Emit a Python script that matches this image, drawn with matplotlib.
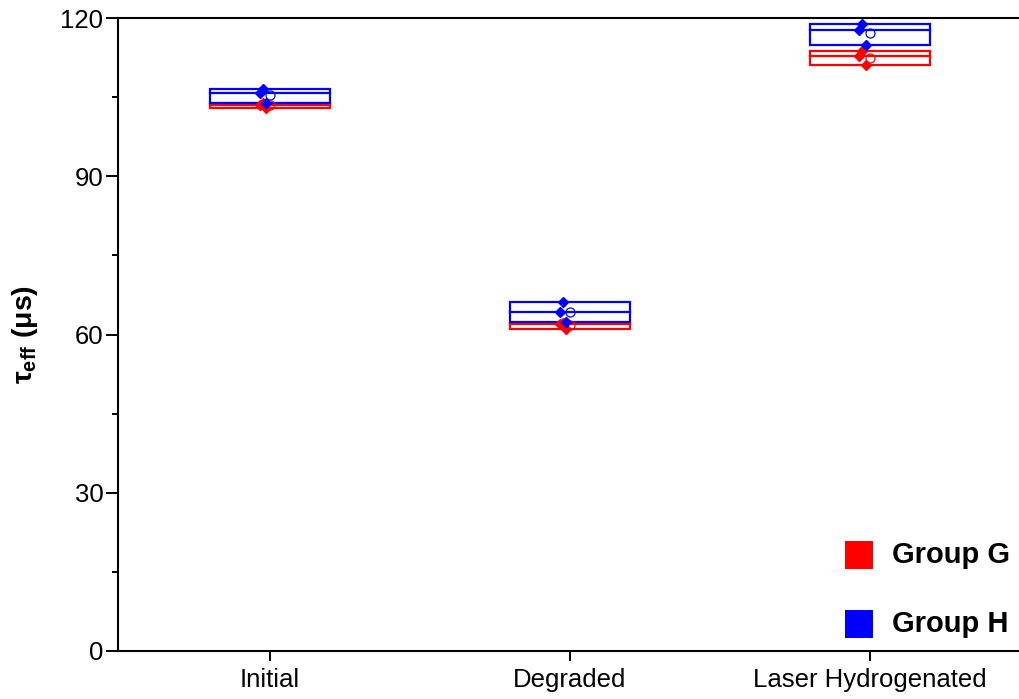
import numpy as np
import matplotlib
matplotlib.use("Agg")
import matplotlib.pyplot as plt
from matplotlib.ticker import MultipleLocator

plt.rcParams["font.family"] = ["Liberation Sans", "DejaVu Sans"]
plt.rcParams["mathtext.fontset"] = "custom"
plt.rcParams["mathtext.rm"] = "Liberation Sans"
plt.rcParams["mathtext.bf"] = "Liberation Sans:bold"

# effective lifetime per stage, three wafers per group (µs)
stages = ["Initial", "Degraded", "Laser Hydrogenated"]
group_g = [
    [103.8, 103.5, 103.0],
    [62.2, 62.0, 61.0],
    [113.7, 112.8, 111.0],
]
group_h = [
    [106.6, 105.7, 103.9],
    [66.2, 64.3, 62.4],
    [118.8, 117.7, 114.9],
]
group_names = ["Group G", "Group H"]
group_colors = ["#ff0000", "#0000ff"]

# small horizontal spread so overlapping points stay visible
jitter = [-0.025, -0.035, -0.012]
box_w = 0.40

fig = plt.figure(figsize=(10.19, 6.99), dpi=100)
ax = fig.add_axes([118 / 1019, 48 / 699, 904 / 1019, 633 / 699])

for data, color in zip([group_g, group_h], group_colors):
    for i, vals in enumerate(data):
        vals = np.asarray(vals)
        lo, hi = vals.min(), vals.max()
        med, mean = np.median(vals), vals.mean()
        ax.add_patch(plt.Rectangle((i - box_w / 2, lo), box_w, hi - lo,
                                   fill=False, edgecolor=color, lw=1.6, zorder=2))
        ax.plot([i - box_w / 2, i + box_w / 2], [med, med], color=color, lw=1.6, zorder=2)
        ax.plot(i + np.array(jitter), vals, ls="none", marker="D", ms=5.5,
                color=color, mec=color, zorder=4)
        ax.plot([i], [mean], ls="none", marker="o", ms=6.5, mfc="none",
                mec=color, mew=0.9, zorder=3)

ax.set_xlim(-0.5067, 2.5067)
ax.set_ylim(0, 120)
ax.set_xticks(range(len(stages)))
ax.set_xticklabels(stages)
ax.yaxis.set_major_locator(MultipleLocator(30))
ax.yaxis.set_minor_locator(MultipleLocator(15))

ax.spines["right"].set_visible(False)
for s in ["left", "bottom", "top"]:
    ax.spines[s].set_linewidth(1.5)

ax.tick_params(axis="both", which="major", direction="out", length=8.5, width=1.4,
               labelsize=18.5, pad=2)
ax.tick_params(axis="y", which="minor", direction="out", length=4, width=1.4)
ax.tick_params(axis="x", which="major", length=7.5, pad=5)
ax.tick_params(axis="x", which="minor", bottom=False)

ax.set_ylabel(r"τ$_{\mathbf{eff}}$ (μs)", fontsize=20.5, fontweight="bold")
ax.yaxis.set_label_coords(-0.086, 0.5)

# legend drawn as plain squares with labels
for k, (name, color) in enumerate(zip(group_names, group_colors)):
    y = 1 - (555 + 69 * k) / 699
    fig.patches.append(plt.Rectangle((845 / 1019, y - 14 / 699), 28 / 1019, 28 / 699,
                                     transform=fig.transFigure, facecolor=color,
                                     edgecolor="none"))
    fig.text(892 / 1019, y, name, fontsize=21, fontweight="bold",
             va="center", ha="left")

fig.savefig("out.png", dpi=100)
